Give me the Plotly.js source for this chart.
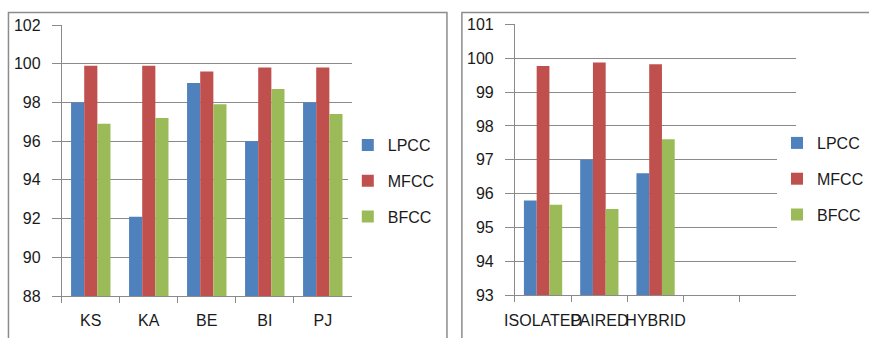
<!DOCTYPE html>
<html>
<head>
<meta charset="utf-8">
<script src="https://cdn.plot.ly/plotly-3.0.1.min.js"></script>
<style>
  html, body { margin: 0; padding: 0; background: #fff; }
  #chart { width: 869px; height: 338px; }
</style>
</head>
<body>
<div id="chart"></div>
<script>
// Recognition accuracy (%) per language set
const languages = ["KS", "KA", "BE", "BI", "PJ"];
const lpccLang = [98.0, 92.1, 99.0, 96.0, 98.0];
const mfccLang = [99.9, 99.9, 99.6, 99.8, 99.8];
const bfccLang = [96.9, 97.2, 97.9, 98.7, 97.4];

// Recognition accuracy (%) per word mode; two trailing slots are left empty
const modes = ["ISOLATED", "PAIRED", "HYBRID", " ", "  "];
const lpccMode = [95.8, 97.0, 96.6];
const mfccMode = [99.77, 99.87, 99.82];
const bfccMode = [95.67, 95.55, 97.61];

const seriesNames = ["LPCC", "MFCC", "BFCC"];
const seriesColors = ["#4F81BD", "#C0504D", "#9BBB59"];

const W = 869, H = 338;
const px = v => v / W;
const py = v => 1 - v / H;

const gridColor = "#8a8a8a";
const font = { family: "Liberation Sans, Arial, sans-serif", size: 16, color: "#1a1a1a" };

function bars(x, ys, xaxis, yaxis, legend) {
  return ys.map((y, i) => ({
    type: "bar",
    x: x.slice(0, y.length),
    y: y,
    name: seriesNames[i],
    legendgroup: seriesNames[i] + legend,
    legend: legend,
    xaxis: xaxis,
    yaxis: yaxis,
    marker: { color: seriesColors[i], line: { width: 0 } },
    hoverinfo: "x+y+name"
  }));
}

const data = [
  ...bars(languages, [lpccLang, mfccLang, bfccLang], "x", "y", "legend"),
  ...bars(modes, [lpccMode, mfccMode, bfccMode], "x2", "y2", "legend2")
];

const yCommon = {
  showgrid: true, gridcolor: gridColor, gridwidth: 1,
  showline: true, linecolor: gridColor, linewidth: 1,
  ticks: "outside", ticklen: 9, tickcolor: gridColor, tickwidth: 1,
  ticklabelstandoff: 8,
  zeroline: false, tickfont: font, fixedrange: true
};
const xCommon = {
  type: "category",
  showline: true, linecolor: gridColor, linewidth: 1,
  ticks: "outside", ticklen: 6, tickcolor: gridColor, tickwidth: 1,
  tickson: "boundaries", tickangle: 0, ticklabelstandoff: 10,
  showgrid: false, zeroline: false, tickfont: font, fixedrange: true
};
const legendCommon = {
  font: font, bgcolor: "#ffffff", borderwidth: 0,
  traceorder: "grouped", tracegroupgap: 12,
  xanchor: "left", yanchor: "top"
};

const layout = {
  width: W, height: H,
  margin: { l: 0, r: 0, t: 0, b: 0 },
  paper_bgcolor: "#ffffff", plot_bgcolor: "#ffffff",
  font: font,
  barmode: "group", bargap: 0.32, bargroupgap: 0,
  showlegend: true,
  xaxis: Object.assign({}, xCommon, {
    domain: [px(62), px(353)], anchor: "y",
    categoryorder: "array", categoryarray: languages
  }),
  yaxis: Object.assign({}, yCommon, {
    domain: [1 - 296 / H, 1 - 25 / H], anchor: "x",
    range: [88, 102], dtick: 2, tick0: 88
  }),
  xaxis2: Object.assign({}, xCommon, {
    domain: [px(516.7), px(799)], anchor: "y2",
    categoryorder: "array", categoryarray: modes, range: [-0.5, 4.5]
  }),
  yaxis2: Object.assign({}, yCommon, {
    domain: [1 - 295.3 / H, 1 - 24.3 / H], anchor: "x2",
    range: [93, 101], dtick: 1, tick0: 93
  }),
  legend: Object.assign({}, legendCommon, { x: px(349), y: py(128) }),
  legend2: Object.assign({}, legendCommon, { x: px(780), y: py(126) }),
  shapes: [
    { type: "rect", xref: "paper", yref: "paper",
      x0: px(8.5), x1: px(448.5), y0: py(345), y1: py(12.5),
      line: { color: "#8c8c8c", width: 1.5 }, fillcolor: "rgba(0,0,0,0)", layer: "below" },
    { type: "rect", xref: "paper", yref: "paper",
      x0: px(463.5), x1: px(875), y0: py(345), y1: py(12.5),
      line: { color: "#8c8c8c", width: 1.5 }, fillcolor: "rgba(0,0,0,0)", layer: "below" }
  ]
};

Plotly.newPlot("chart", data, layout, { displayModeBar: false, staticPlot: true });
</script>
</body>
</html>
